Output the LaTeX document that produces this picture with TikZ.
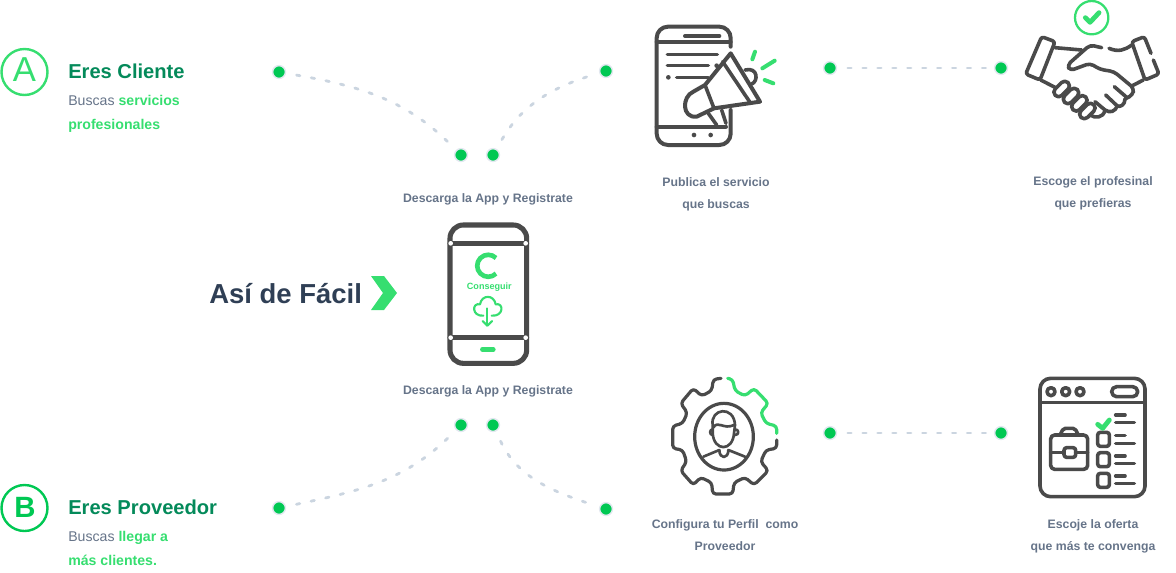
\documentclass[tikz,border=0pt]{standalone}
\usepackage{fontspec}
\setmainfont{Liberation Sans}
\definecolor{icongray}{HTML}{4A4A4A}
\definecolor{lightgreen}{HTML}{36DE70}
\definecolor{dotgreen}{HTML}{00C853}
\definecolor{darkgreen}{HTML}{048A5A}
\definecolor{textgray}{HTML}{667489}
\definecolor{titlegray}{HTML}{2F3F55}
\definecolor{dashgray}{HTML}{CBD5E0}
\definecolor{ringgray}{HTML}{E2E8F0}
\tikzset{
  stepdot/.style={circle,fill=dotgreen,draw=ringgray,line width=1.1pt,minimum size=9.6pt,inner sep=0pt},
  dashline/.style={draw=dashgray,line width=2.1pt,line cap=round,dash pattern=on 2.6pt off 8.6pt,shorten >=6pt,shorten <=8pt},
  caption/.style={text=textgray,font=\fontsize{9.2pt}{15.8pt}\selectfont\bfseries,align=center,anchor=base},
  heading/.style={text=darkgreen,font=\fontsize{15.1pt}{18pt}\selectfont\bfseries,anchor=base west,inner sep=0pt},
  subline/.style={text=textgray,font=\fontsize{10.6pt}{12pt}\selectfont,anchor=base west,inner sep=0pt},
  zoomed/.style={x=0.25pt,y=-0.25pt},
  icon/.style={draw=icongray,line width=2.7pt,line cap=round,line join=round},
  greenline/.style={draw=lightgreen,line width=2.7pt,line cap=round,line join=round}
}
\begin{document}
\begin{tikzpicture}[x=0.75pt,y=-0.75pt]
\useasboundingbox (0,0) rectangle (1176,572);

% dots
\foreach \name/\x/\y in {ca/279/72,cb/461/155,cc/493/155,cd/606/71,ce/830/68,cf/1001/68,pa/461/425,pb/493/425,pc/279/508,pd/606/509,pe/830/433,pf/1001/433}{
\node[stepdot] (\name) at (\x,\y) {};
}
\draw[dashline] (ca) to[out=-10,in=135] (cb);
\draw[dashline] (cc) to[out=60,in=197] (cd);
\draw[dashline] (ce) -- (cf);
\draw[dashline] (pc) to[out=12,in=225] (pa);
\draw[dashline] (pb) to[out=-65,in=162] (pd);
\draw[dashline] (pe) -- (pf);

% left side labels
\draw[draw=lightgreen,line width=1.8pt] (24.5,72) circle (23);
\node[text=lightgreen,font=\fontsize{26pt}{26pt}\selectfont] (lettera) at (24.5,70) {A};
\node[heading] (cliente) at (68,78) {Eres Cliente};
\node[subline] (clientea) at (68,105) {Buscas \textcolor{lightgreen}{\bfseries servicios}};
\node[subline] (clienteb) at (68,129) {\textcolor{lightgreen}{\bfseries profesionales}};

\draw[draw=dotgreen,line width=1.8pt] (24.5,508) circle (23);
\node[text=dotgreen,font=\fontsize{22pt}{24pt}\bfseries\selectfont] (letterb) at (25,507.5) {B};
\node[heading] (proveedor) at (68,514) {Eres Proveedor};
\node[subline] (proveedora) at (68,541) {Buscas \textcolor{lightgreen}{\bfseries llegar a}};
\node[subline] (proveedorb) at (68,565) {\textcolor{lightgreen}{\bfseries más clientes.}};

\node[text=titlegray,font=\fontsize{20.6pt}{24pt}\selectfont\bfseries,anchor=base west,inner sep=0pt] (facil) at (209,303) {Así de Fácil};
\fill[lightgreen] (371,276) -- (384,276) -- (397,293) -- (384,310) -- (371,310) -- (383,293) -- cycle;

% captions
\node[caption] (capa) at (488,202) {Descarga la App y Registrate};
\node[caption] (capb) at (488,394) {Descarga la App y Registrate};
\node[caption] (capc) at (716,208) {Publica el servicio\\que buscas};
\node[caption] (capd) at (1093,207) {Escoge el profesinal\\que prefieras};
\node[caption] (cape) at (725,550) {Configura tu Perfil\ \ como\\Proveedor};
\node[caption] (capf) at (1093,550) {Escoje la oferta\\que más te convenga};

% phone with megaphone
\begin{scope}[shift={(640,10)},zoomed]
\draw[icon,line width=3pt,rounded corners=8.5pt] (272,110) -- (272,50) -- (50,50) -- (50,405) -- (272,405) -- (272,300);
\draw[icon,line width=3pt] (50,95) -- (272,95);
\draw[icon,line width=3pt] (50,350) -- (258,350);
\draw[icon,line width=3pt] (135,78) -- (238,78);
\fill[icongray] (162,375) circle (7) (212,375) circle (7) (85,202) circle (7) (230,167) circle (7);
\draw[icon] (82,133) -- (232,133);
\draw[icon] (82,167) -- (205,167);
\draw[icon] (110,202) -- (205,202);
\draw[icon,line width=3pt] (272,130) -- (360,275) -- (222,295) -- (170,320) .. controls (125,325) and (125,260) .. (160,245) -- (195,225) -- cycle;
\draw[icon] (248,155) -- (332,280);
\draw[icon] (195,225) -- (222,295);
\draw[icon] (315,180) .. controls (355,170) and (355,215) .. (335,222);
\draw[icon] (205,310) -- (230,345);
\draw[icon] (245,300) -- (258,340);
\draw[greenline,line width=3pt] (345,125) -- (337,148);
\draw[greenline,line width=3pt] (367,175) -- (404,152);
\draw[greenline,line width=3pt] (374,210) -- (400,220);
\end{scope}

% handshake
\begin{scope}[shift={(1010,0)},zoomed]
\draw[draw=lightgreen,line width=1.7pt] (245,53) circle (50);
\draw[greenline,line width=3.6pt] (226,53) -- (240,67) -- (267,38);
\draw[icon,rounded corners=2pt] (95,110) -- (135,125) -- (90,240) -- (47,222) -- cycle;
\draw[icon,rounded corners=2pt] (423,160) -- (403,110) -- (365,125) -- (405,240) -- (447,222) -- (430,180);
\draw[icon] (135,143) -- (215,150);
\draw[icon] (297,145) .. controls (325,157) and (345,150) .. (365,135);
\draw[icon,rounded corners=3pt] (275,143) -- (240,135) -- (172,195) -- (180,212) -- (240,190) -- (270,208) -- (312,215) -- (372,265) -- (368,285) -- (345,297);
\draw[icon] (92,240) -- (135,262);
\draw[icon] (400,240) -- (367,257);
\draw[icon] (313,260) -- (350,292);
\draw[icon] (287,285) -- (322,318);
\draw[icon] (345,297) .. controls (345,315) and (330,322) .. (322,318);
\draw[icon] (322,318) .. controls (315,335) and (300,340) .. (285,330) -- (255,305);
\draw[icon] (285,330) .. controls (280,355) and (255,355) .. (240,345);
\foreach \x/\y in {155/267,183/288,208/310,232/333}{
\draw[icon,rounded corners=3.4pt,rotate around={45:(\x,\y)}] (\x-27,\y-14) rectangle (\x+27,\y+14);
}
\end{scope}

% center phone
\begin{scope}[shift={(430,215)},zoomed]
\draw[icon,line width=3.8pt,rounded corners=10pt] (60,30) rectangle (290,445);
\draw[icon,line width=3.8pt] (60,85) -- (290,85);
\draw[icon,line width=3.8pt] (60,368) -- (290,368);
\foreach \x/\y in {62/85,287/85,62/368,287/368}{
\fill[white] (\x,\y) circle (7);
}
\draw[greenline,line width=3.5pt,line cap=butt] (198,129) arc (-45:-315:33);
\node[text=lightgreen,font=\fontsize{6.8pt}{8pt}\selectfont\bfseries] (brand) at (178,218) {Conseguir};
\draw[greenline,line width=1.6pt] (160,302) .. controls (125,305) and (125,262) .. (150,268) .. controls (155,238) and (192,238) .. (197,268) .. controls (222,262) and (222,305) .. (185,302);
\draw[greenline,line width=1.6pt] (172,280) -- (172,332);
\draw[greenline,line width=1.6pt] (158,318) -- (172,332) -- (186,318);
\draw[greenline,line width=3.4pt] (157,403) -- (190,403);
\end{scope}

% gear
\begin{scope}[shift={(660,370)},zoomed]
\draw[greenline,line width=2.4pt,rounded corners=2.5pt] (203,25) -- (218,28) -- (225,62) -- (255,78) -- (282,55) -- (325,100) -- (302,128) -- (318,160) -- (350,168) -- (350,190);
\draw[icon,line width=2.4pt,rounded corners=2.5pt] (350,210) -- (350,235) -- (318,240) -- (302,275) -- (325,302) -- (282,345) -- (255,322) -- (222,338) -- (218,372) -- (158,372) -- (155,338) -- (122,322) -- (100,345) -- (62,302) -- (80,275) -- (68,240) -- (38,235) -- (38,168) -- (68,160) -- (82,128) -- (62,100) -- (100,55) -- (125,78) -- (155,62) -- (160,28) -- (183,25);
\draw[icon,line width=2.4pt] (192,200) ellipse (88 and 100);
\draw[icon,line width=2pt] (158,165) .. controls (150,115) and (222,105) .. (225,165) -- (222,190) .. controls (218,245) and (162,245) .. (158,190) -- cycle;
\draw[icon,line width=2pt] (160,172) .. controls (175,150) and (190,180) .. (222,165);
\draw[icon,line width=2pt] (158,178) .. controls (148,178) and (148,195) .. (158,195);
\draw[icon,line width=2pt] (225,178) .. controls (238,178) and (238,195) .. (225,195);
\draw[icon,line width=2pt] (130,260) -- (178,240) .. controls (178,268) and (205,268) .. (205,240) -- (255,260);
\end{scope}

% window with list
\begin{scope}[shift={(1030,370)},zoomed]
\draw[icon,rounded corners=8pt] (30,25) rectangle (345,380);
\draw[icon] (30,98) -- (345,98);
\foreach \x in {63,107,150}{
\draw[icon] (\x,65) circle (12);
}
\draw[icon,rounded corners=3.7pt] (245,50) rectangle (323,80);
\draw[icon,rounded corners=3pt] (62,195) rectangle (173,298);
\draw[icon,rounded corners=1.5pt] (90,195) -- (100,175) -- (135,175) -- (145,195);
\draw[icon] (62,247) -- (100,247);
\draw[icon] (137,247) -- (173,247);
\draw[icon,rounded corners=2pt] (102,233) rectangle (137,262);
\foreach \y in {187,248,310}{
\draw[icon,rounded corners=2pt] (203,\y) rectangle (238,\y+42);
}
\foreach \y in {135,197,258,318}{
\draw[icon] (257,\y) -- (285,\y);
\draw[icon] (257,\y+23) -- (313,\y+23);
}
\draw[greenline,line width=3.6pt] (203,163) -- (218,175) -- (238,150);
\end{scope}
\end{tikzpicture}
\end{document}
